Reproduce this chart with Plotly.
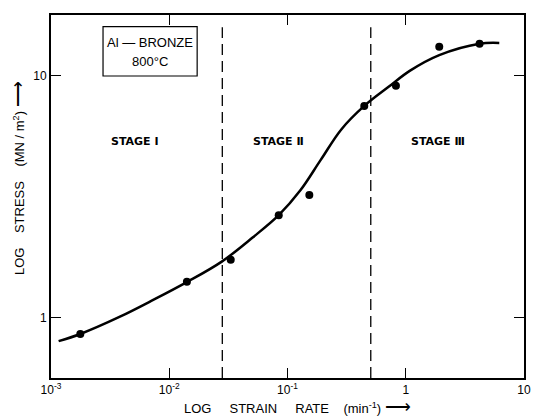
import plotly.graph_objects as go

# Measured data points (strain rate in min^-1, stress in MN/m^2)
strain_rate = [0.00177, 0.0141, 0.0331, 0.0843, 0.153, 0.446, 0.826, 1.92, 4.21]
stress = [0.859, 1.41, 1.74, 2.66, 3.22, 7.52, 9.12, 13.2, 13.6]

curve_rate = [0.00116, 0.00177, 0.00379, 0.00738, 0.0142, 0.0278, 0.0507, 0.0843,
              0.128, 0.191, 0.284, 0.446, 0.721, 1.08, 1.92, 4.21, 6.18]
curve_stress = [0.802, 0.859, 1.01, 1.19, 1.41, 1.71, 2.15, 2.66,
                3.36, 4.50, 6.00, 7.52, 9.04, 10.5, 12.2, 13.6, 13.7]

# Stage boundaries (strain rate)
stage_bounds = [0.0281, 0.506]
stage_span = [0.565, 15.9]

x_tickvals = [0.001, 0.01, 0.1, 1, 10]
x_ticktext = ["10<sup>-3</sup>", "10<sup>-2</sup>", "10<sup>-1</sup>", "1", "10"]
y_tickvals = [1, 10]
y_ticktext = ["1", "10"]

stage_names = ["STAGE \u2160", "STAGE \u2161", "STAGE \u2162"]

fig = go.Figure()

for b in stage_bounds:
    fig.add_trace(go.Scatter(x=[b, b], y=stage_span, mode="lines",
                             line=dict(color="black", width=1.3, dash="11px,6px"),
                             hoverinfo="skip", showlegend=False))

fig.add_trace(go.Scatter(x=curve_rate, y=curve_stress, mode="lines",
                         line=dict(color="black", width=2.5, shape="spline", smoothing=1.0),
                         showlegend=False))
fig.add_trace(go.Scatter(x=strain_rate, y=stress, mode="markers",
                         marker=dict(color="black", size=8), showlegend=False))

font = "Liberation Sans, Arial, sans-serif"

fig.update_layout(
    width=535, height=418,
    margin=dict(l=51, r=11, t=15, b=40),
    paper_bgcolor="white", plot_bgcolor="white",
    font=dict(family=font, color="black", size=11),
    xaxis=dict(type="log", range=[-3, 1], tickvals=x_tickvals, ticktext=x_ticktext,
               ticks="inside", ticklen=10, tickwidth=1.3, tickcolor="black",
               showline=True, linecolor="black", linewidth=2, mirror="ticks",
               showgrid=False, zeroline=False, tickfont=dict(size=12), automargin=False),
    yaxis=dict(type="log", range=[-0.248, 1.252], tickvals=y_tickvals, ticktext=y_ticktext,
               ticks="inside", ticklen=10, tickwidth=1.3, tickcolor="black",
               showline=True, linecolor="black", linewidth=2, mirror="ticks",
               showgrid=False, zeroline=False, tickfont=dict(size=12), automargin=False),
)

# Box with alloy label
fig.add_shape(type="rect", xref="paper", yref="paper", x0=0.110, x1=0.309, y0=0.832, y1=0.968,
              line=dict(color="black", width=1.2), fillcolor="white", layer="above")
fig.add_annotation(xref="paper", yref="paper", x=0.2093, y=0.925, text="Al \u2014 BRONZE",
                   showarrow=False, font=dict(size=13), xanchor="center", yanchor="middle")
fig.add_annotation(xref="paper", yref="paper", x=0.2093, y=0.871, text="800\u00b0C",
                   showarrow=False, font=dict(size=13), xanchor="center", yanchor="middle")

stage_x = [0.177, 0.480, 0.818]
for sx, name in zip(stage_x, stage_names):
    fig.add_annotation(xref="paper", yref="paper", x=sx, y=0.652, text="<b>" + name + "</b>",
                       showarrow=False, font=dict(size=11, family="DejaVu Sans"),
                       xanchor="center", yanchor="middle")

nb = "\u00a0"
arrow = "<span style='font-size:18px'>\u27f6</span>"
fig.add_annotation(xref="paper", yref="paper", x=0.522, y=-0.080,
                   text="LOG" + nb * 5 + "STRAIN" + nb * 5 + "RATE" + nb * 4 + "(min<sup>-1</sup>)" + nb + arrow,
                   showarrow=False, font=dict(size=13), xanchor="center", yanchor="middle")
fig.add_annotation(xref="paper", yref="paper", x=-0.0698, y=0.551, textangle=-90,
                   text="LOG" + nb * 4 + "STRESS" + nb * 4 + "(MN / m<sup>2</sup>)" + nb + arrow,
                   showarrow=False, font=dict(size=13), xanchor="center", yanchor="middle")

fig.write_html("out.html", config={"displayModeBar": False},
               post_script="document.body.style.margin='0';document.body.style.padding='0';")
